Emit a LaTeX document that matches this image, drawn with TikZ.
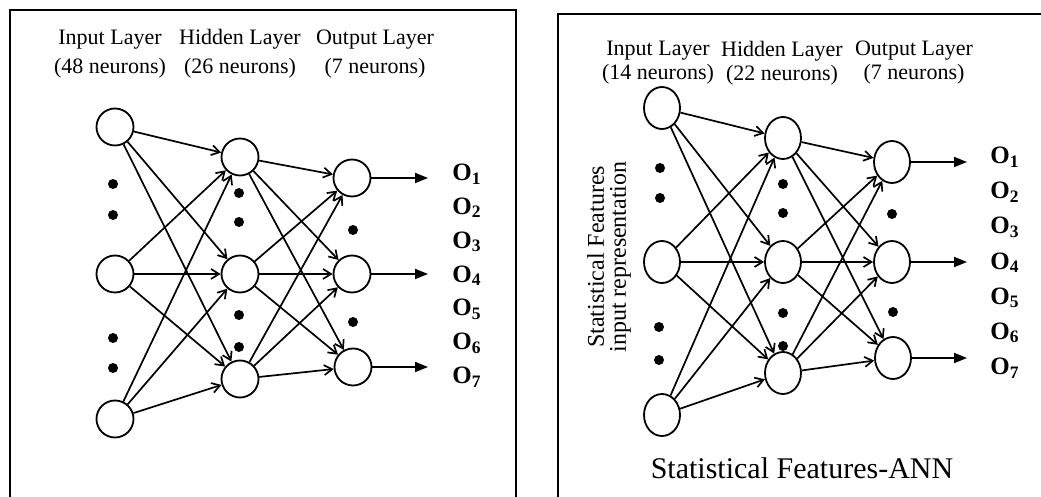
\documentclass[tikz,border=0pt]{standalone}
\usepackage{fontspec}
\setmainfont{Liberation Serif}
\usetikzlibrary{arrows.meta,shapes.geometric}
\tikzset{
  neuron/.style={circle, draw, line width=0.9pt, inner sep=0pt, minimum size=18.5pt},
  sneuron/.style={ellipse, draw, line width=0.9pt, inner sep=0pt,
                  minimum width=18pt, minimum height=21pt},
  link/.style={-{Straight Barb[length=4pt,width=5pt]}, line width=0.85pt},
  outflow/.style={-{Triangle[length=6.5pt,width=5pt]}, line width=0.9pt},
  lyr/.style={align=center, inner sep=0pt},
  olab/.style={anchor=west, inner sep=0pt, font=\fontsize{12.5}{14}\selectfont\bfseries},
  frame/.style={line width=1.1pt}
}

\begin{document}
\begin{tikzpicture}[x=0.5pt, y=-0.5pt]
\useasboundingbox (0,0) rectangle (1041,497);

% left panel
\draw[frame] (10,497) -- (10,10) -- (516,10) -- (516,497);
\node[lyr, font=\fontsize{11}{14.5}\selectfont] (hin) at (110,54) {Input Layer\\(48 neurons)};
\node[lyr, font=\fontsize{11}{14.5}\selectfont] (hhid) at (240,54) {Hidden Layer\\(26 neurons)};
\node[lyr, font=\fontsize{11}{14.5}\selectfont] (hout) at (375,54) {Output Layer\\(7 neurons)};

\node[neuron] (i1) at (115,127) {};
\node[neuron] (i2) at (115,274) {};
\node[neuron] (i3) at (115,419) {};
\node[neuron] (h1) at (240,157) {};
\node[neuron] (h2) at (240,274) {};
\node[neuron] (h3) at (240,379) {};
\node[neuron] (o1) at (352,178) {};
\node[neuron] (o2) at (352,274) {};
\node[neuron] (o3) at (353,367) {};

\foreach \p in {(113,184),(113,215),(113,338),(113,368),
                (239,193),(239,222),(239,315),(239,347),
                (353,230),(353,322)}
  \fill \p circle[radius=2.5pt];

\foreach \a in {1,2,3}{
  \foreach \b in {1,2,3}{
    \draw[link] (i\a) -- (h\b);
    \draw[link] (h\a) -- (o\b);
  }
}
\coordinate (t1) at (428,178);
\coordinate (t2) at (428,274);
\coordinate (t3) at (428,367);
\draw[outflow] (o1) -- (t1);
\draw[outflow] (o2) -- (t2);
\draw[outflow] (o3) -- (t3);

\foreach \k in {1,...,7}
  \node[olab] (l\k) at (452,{174+33.9*(\k-1)}) {O\textsubscript{\k}};

% right panel
\draw[frame] (558,497) -- (558,14) -- (1041,14);
\node[lyr, font=\fontsize{11}{12}\selectfont] (sin) at (658,63) {Input Layer\\(14 neurons)};
\node[lyr, font=\fontsize{11}{12}\selectfont] (shid) at (782,63) {Hidden Layer\\(22 neurons)};
\node[lyr, font=\fontsize{11}{12}\selectfont] (sout) at (914,63) {Output Layer\\(7 neurons)};

\node[sneuron] (si1) at (662,108) {};
\node[sneuron] (si2) at (662,262) {};
\node[sneuron] (si3) at (662,415) {};
\node[sneuron] (sh1) at (783,138) {};
\node[sneuron] (sh2) at (783,262) {};
\node[sneuron] (sh3) at (783,373) {};
\node[sneuron] (so1) at (892,162) {};
\node[sneuron] (so2) at (892,262) {};
\node[sneuron] (so3) at (893,358) {};

\foreach \p in {(660,168),(660,198),(659,327),(659,360),
                (783,184),(783,213),(783,313),(783,346),
                (892,214),(893,312)}
  \fill \p circle[radius=2.5pt];

\foreach \a in {1,2,3}{
  \foreach \b in {1,2,3}{
    \draw[link] (si\a) -- (sh\b);
    \draw[link] (sh\a) -- (so\b);
  }
}
\coordinate (st1) at (967,162);
\coordinate (st2) at (967,262);
\coordinate (st3) at (967,358);
\draw[outflow] (so1) -- (st1);
\draw[outflow] (so2) -- (st2);
\draw[outflow] (so3) -- (st3);

\foreach \k in {1,...,7}
  \node[olab] (sl\k) at (990,{157+35.2*(\k-1)}) {O\textsubscript{\k}};

\node[lyr, rotate=90, font=\fontsize{12}{11}\selectfont] (side) at (609,257)
  {Statistical Features\\input representation};
\node[font=\fontsize{15}{17}\selectfont, inner sep=0pt] (title) at (802,468)
  {Statistical Features-ANN};
\end{tikzpicture}
\end{document}
